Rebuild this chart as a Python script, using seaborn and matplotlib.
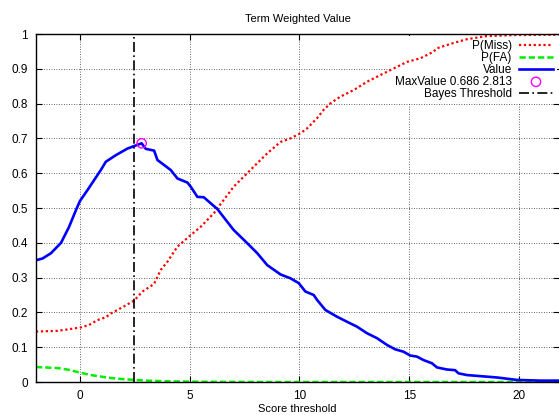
import matplotlib
matplotlib.use("Agg")
import matplotlib.pyplot as plt
import seaborn as sns
import pandas as pd

# values
value_x = [-2.0, -1.7, -1.32, -0.86, -0.5, -0.18, 0.0, 0.35, 0.95, 1.18, 1.64, 2.17, 2.47, 2.81,
           3.0, 3.38, 3.53, 4.14, 4.44, 4.9, 5.05, 5.35, 5.64, 6.26, 7.0, 7.62, 8.08,
           8.53, 9.14, 9.59, 9.97, 10.27, 10.65, 10.8, 11.18, 11.7, 12.17, 12.62, 13.08,
           13.53, 14.0, 14.36, 14.74, 15.05, 15.35, 15.65, 16.03, 16.26, 16.71, 17.09,
           17.24, 17.62, 19.0, 19.9, 20.95, 21.8]
value_y = [0.35, 0.355, 0.37, 0.40, 0.445, 0.494, 0.52, 0.552, 0.609, 0.633, 0.652, 0.671, 0.678, 0.686,
           0.67, 0.665, 0.638, 0.609, 0.585, 0.573, 0.561, 0.532, 0.531, 0.497, 0.437, 0.399, 0.37,
           0.336, 0.309, 0.298, 0.284, 0.26, 0.25, 0.236, 0.207, 0.188, 0.173, 0.159, 0.14,
           0.126, 0.106, 0.094, 0.087, 0.076, 0.073, 0.063, 0.054, 0.042, 0.036, 0.034,
           0.025, 0.02, 0.013, 0.006, 0.004, 0.004]

miss_x = [-2.0, -1.0, 0.05, 0.42, 0.8, 1.18, 1.41, 1.94, 2.47, 2.85, 3.38, 3.68, 3.99, 4.44,
          4.97, 5.5, 6.1, 6.26, 7.0, 7.92, 8.53, 9.14, 9.59, 10.05, 10.35, 10.8, 11.1, 11.41,
          11.86, 12.47, 13.08, 13.68, 14.29, 14.9, 15.5, 16.1, 16.26, 17.0, 17.62, 18.5,
          19.76, 21.8]
miss_y = [0.145, 0.147, 0.157, 0.164, 0.178, 0.186, 0.197, 0.215, 0.234, 0.26, 0.282, 0.322,
          0.346, 0.389, 0.418, 0.446, 0.485, 0.499, 0.561, 0.619, 0.657, 0.69, 0.70, 0.715,
          0.729, 0.758, 0.782, 0.801, 0.82, 0.839, 0.863, 0.882, 0.901, 0.92, 0.93, 0.949,
          0.959, 0.974, 0.985, 0.994, 0.997, 0.998]

fa_x = [-2.0, -1.0, -0.5, 0.0, 0.5, 1.0, 1.5, 2.0, 2.5, 3.0, 4.0, 5.0, 6.0, 8.0, 21.8]
fa_y = [0.043, 0.040, 0.035, 0.027, 0.020, 0.015, 0.011, 0.008, 0.006, 0.004, 0.002, 0.001, 0.0005, 0.0, 0.0]

max_value = 0.686
max_score = 2.813
bayes_threshold = 2.47

plt.rcParams["font.family"] = ["Liberation Sans", "DejaVu Sans"]

fig = plt.figure(figsize=(5.59, 4.15), dpi=100)
ax = fig.add_axes([0.0644, 0.0795, 0.9356, 0.8385])
ax.set_axisbelow(True)

df_miss = pd.DataFrame({"x": miss_x, "y": miss_y})
df_fa = pd.DataFrame({"x": fa_x, "y": fa_y})
df_val = pd.DataFrame({"x": value_x, "y": value_y})

sns.lineplot(data=df_miss, x="x", y="y", ax=ax, color="#ff0000", lw=1.6,
             linestyle=(0, (1, 1.2)), label="P(Miss)", estimator=None, sort=False)
sns.lineplot(data=df_fa, x="x", y="y", ax=ax, color="#00ee00", lw=1.8,
             linestyle=(0, (2.5, 1.2)), label="P(FA)", estimator=None, sort=False)
sns.lineplot(data=df_val, x="x", y="y", ax=ax, color="#0000ff", lw=1.9,
             label="Value", estimator=None, sort=False)
sns.scatterplot(x=[max_score], y=[max_value], ax=ax, marker="o", s=45,
                facecolors="none", edgecolor="#ff00ff", linewidth=1.0,
                label=f"MaxValue {max_value} {max_score}", zorder=3)
ax.axvline(bayes_threshold, color="black", lw=1.2, linestyle=(0, (6, 2, 1, 2)),
           label="Bayes Threshold")

ax.set_xlim(-2, 21.82)
ax.set_ylim(0, 1)
ax.set_xticks([0, 5, 10, 15, 20])
ax.set_yticks([0, 0.1, 0.2, 0.3, 0.4, 0.5, 0.6, 0.7, 0.8, 0.9, 1])
ax.set_yticklabels(["0", "0.1", "0.2", "0.3", "0.4", "0.5", "0.6", "0.7", "0.8", "0.9", "1"])
ax.grid(True, color="#333333", linestyle=(0, (1, 2)), lw=0.6)
ax.tick_params(direction="in", length=4, labelsize=8.5, colors="black", pad=6,
               top=True, right=True)
for s in ax.spines.values():
    s.set_color("black")
    s.set_linewidth(1.0)
ax.spines["right"].set_visible(False)

ax.set_title("Term Weighted Value", fontsize=8, pad=9)
ax.set_xlabel("Score threshold", fontsize=8, labelpad=1)
ax.set_ylabel("")

# legend sits over the grid but under the curves (like gnuplot's key)
leg = ax.legend(loc="upper right", bbox_to_anchor=(1.0, 1.0), markerfirst=False,
                fontsize=8.5, frameon=True, facecolor="white", edgecolor="none",
                framealpha=1, fancybox=False, handlelength=2.9, handletextpad=0.6,
                labelspacing=0.0, borderpad=0.3, borderaxespad=0.2)
leg.get_frame().set_linewidth(0)
leg.set_zorder(1)

fig.savefig("out.png", dpi=100)
